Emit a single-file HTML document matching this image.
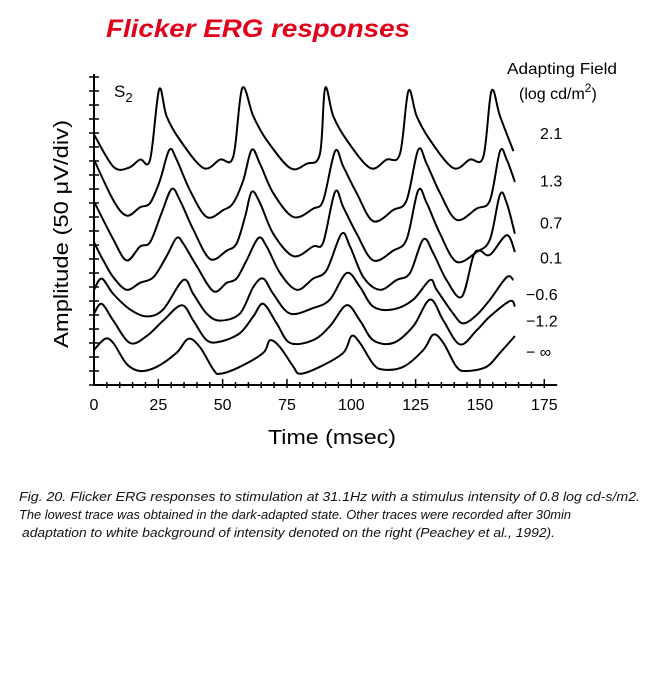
<!DOCTYPE html>
<html><head><meta charset="utf-8"><style>
html,body{margin:0;padding:0;background:#fff;}
svg{display:block;}
text{font-family:"Liberation Sans",sans-serif;}
</style></head><body>
<svg id="chart" width="656" height="688" viewBox="0 0 656 688" xmlns="http://www.w3.org/2000/svg">
<text x="106" y="37" font-size="25" font-weight="bold" font-style="italic" fill="#e0001a" textLength="304" lengthAdjust="spacingAndGlyphs">Flicker ERG responses</text>
<g id="axes"></g>
<g id="traces"></g>
<text x="114" y="97" font-size="17">S<tspan font-size="13" dy="5">2</tspan></text>
<text transform="translate(68,234) rotate(-90)" text-anchor="middle" font-size="20" textLength="228" lengthAdjust="spacingAndGlyphs">Amplitude (50 μV/div)</text>
<text x="332" y="444" text-anchor="middle" font-size="20" textLength="128" lengthAdjust="spacingAndGlyphs">Time (msec)</text>
<text x="507" y="74" font-size="16" textLength="110" lengthAdjust="spacingAndGlyphs">Adapting Field</text>
<text x="519" y="99" font-size="16">(log cd/m<tspan font-size="12" dy="-7">2</tspan><tspan dy="7">)</tspan></text>
<g id="legend"></g>
<g font-style="italic" font-size="12.5" fill="#111">
<text x="19" y="501" textLength="621" lengthAdjust="spacingAndGlyphs">Fig. 20. Flicker ERG responses to stimulation at 31.1Hz with a stimulus intensity of 0.8 log cd-s/m2.</text>
<text x="19" y="519" textLength="552" lengthAdjust="spacingAndGlyphs">The lowest trace was obtained in the dark-adapted state. Other traces were recorded after 30min</text>
<text x="22" y="537" textLength="533" lengthAdjust="spacingAndGlyphs">adaptation to white background of intensity denoted on the right (Peachey et al., 1992).</text>
</g>
</svg>
<script>
const xTicks=[0,25,50,75,100,125,150,175];
const legendLabels=["2.1","1.3","0.7","0.1","\u22120.6","\u22121.2","\u2212 \u221e"];
const legendLevels=[18,14.6,11.6,9.1,6.5,4.6,2.4];
const T1t=[0,7.5,13.3,17.9,21.8,25.3,28.2,33.4,42.5,49,54.1,57.6,61.9,67.1,76.2,82.6,87.8,89.8,93,98.2,107.3,113.7,118.9,122.2,125.4,130.6,139.6,146.1,151.3,154.5,157.8,163];
const T1v=[17.9,15.6,15.5,16.1,16.1,21.1,19.2,17.5,15.5,16.1,16.3,21.2,19.2,17.5,15.5,15.8,16.5,21.2,19.2,17.5,15.5,16.1,16.5,21,19.2,17.5,15.5,16.1,16.3,21,19.2,16.7];
const T2t=[0,7.5,12.7,17.9,21.8,25.6,29.3,32.1,37.3,43.8,50.3,54.1,58,61.3,64.5,69.7,77.5,85.2,89.1,93.7,96.9,102.1,108.5,116.3,121.5,126,129.3,134.5,140.9,148.7,153.9,157.8,160.4,163.6];
const T2v=[16.1,13.2,12.1,12.7,13,14.6,16.8,16.1,13.9,12,12.5,13,14.6,16.8,15.8,13.7,12,12.6,13.2,16.7,15.6,13.7,11.7,12.5,13.2,16.8,15.8,13.7,11.8,12.6,13.2,16.7,16.1,14.5];
const T3t=[0,7.5,12.7,17.9,21.8,26.3,30.2,33.4,38.6,45.1,51.6,55.4,58.7,61.3,64.5,69.7,77.5,85.2,89.1,93.7,96.9,102.1,108.5,116.3,121.5,126,129.3,134.5,140.9,148.7,153.9,157.8,160.4,163.6];
const T3v=[13.1,10.4,8.9,9.9,10.2,12.3,14,13.2,11.1,9,9.6,10.1,12,13.8,13,10.8,9.2,9.9,10.2,13.8,12.7,10.8,8.9,9.6,10.4,13.9,13,10.8,8.8,9.5,10.4,13.6,13,10.8];
const T4t=[0,3.6,7.5,12.7,17.9,23.1,28.2,32.1,34.7,39.9,46.4,51.6,55.4,59.3,63.9,67.1,72.3,78.8,85.2,90.4,96.2,99.5,104.7,111.1,117.6,122.8,128,131.9,137,142.9,147.4,150,153.9,160.4,163.6];
const T4v=[10.2,8.9,7.7,6.8,7.3,7.7,9.2,10.5,10.1,8.5,6.7,7.3,7.6,8.9,10.5,9.9,8,6.8,7.6,8.2,10.8,9.9,7.7,6.8,7.5,8,10.4,9.4,7.5,6.3,9.2,9.6,9.3,10.7,9.5];
const T5t=[0,3,7.5,14,20.5,26.9,34.7,38.6,43.8,49,56.7,61.9,65.8,69.7,76.2,85.2,91.7,98.2,103.4,108.5,116.3,124.1,130.6,133.2,139.6,143.5,148.7,153.9,160.4,163];
const T5v=[6.8,7.6,6.5,5.4,4.9,5.4,7.5,6.5,5.1,4.6,5.1,7,7.6,6.5,5.1,5.5,6.1,8,7,5.6,5.4,6.1,7.5,6.8,5.1,4.4,5,6.1,7.7,7.5];
const T6t=[0,3,7.5,14,20.5,26.9,34.1,38.6,43.8,49,56.7,61.9,65.8,71,76.2,85.2,91.7,98.2,103.4,108.5,116.3,124.1,130.6,135.8,142.2,148.7,153.9,161.7,163.6];
const T6v=[5.1,5.8,4.6,3,3.5,4.6,5.7,4.6,3.2,3.1,3.7,4.9,5.8,4.4,3,3.2,4.2,5.7,4.6,3.2,3,4.2,6.1,4.6,2.9,3.9,4.9,6,5.6];
const T7t=[0,4.3,7.5,12.7,17.9,24.4,32.1,36.7,41.2,46.4,49,56.7,65.8,68.4,72.3,77.5,80.1,87.8,96.9,100.1,103.4,108.5,112.4,120.2,128,131.9,135.8,140.9,144.8,152.6,157.8,163.6];
const T7v=[2.5,3.3,3,1.5,1,1.3,2.3,3.3,2.7,1.1,0.8,1.3,2.3,3.2,2.7,1.3,0.8,1.3,2.3,3.5,3,1.5,1.1,1.3,2.5,3.6,3,1.3,1,1.3,2.3,3.5];
const traceNames=["trace-2-1","trace-1-3","trace-0-7","trace-0-1","trace-neg-0-6","trace-neg-1-2","trace-dark-adapted"];
const traceT=[T1t,T2t,T3t,T4t,T5t,T6t,T7t];
const traceV=[T1v,T2v,T3v,T4v,T5v,T6v,T7v];

const NS="http://www.w3.org/2000/svg";
const X0=94, PXMS=2.573, Y0=385, PXDIV=14;
function xs(t){return X0+t*PXMS;}
function ys(v){return Y0-v*PXDIV;}
function mk(tag,attrs,parent){const e=document.createElementNS(NS,tag);for(const k in attrs)e.setAttribute(k,attrs[k]);parent.appendChild(e);return e;}

const axes=document.getElementById('axes');
let yl=mk('line',{x1:X0,y1:74,x2:X0,y2:Y0,stroke:'#000','stroke-width':2},axes);


let xl=mk('line',{x1:X0,y1:Y0,x2:xs(180),y2:Y0,stroke:'#000','stroke-width':2},axes);


for(let d=0;d<=22;d++){
  let tk=mk('line',{x1:X0-5,y1:ys(d),x2:X0+5,y2:ys(d),stroke:'#000','stroke-width':1.5},axes);
  
  
}
for(let t=5;t<=175;t+=5){
  const major=(t%25===0);
  let tk=mk('line',{x1:xs(t),y1:Y0-(major?6:3),x2:xs(t),y2:Y0+3,stroke:'#000','stroke-width':1.5},axes);
  
  
}
xTicks.forEach(t=>{
  let lb=mk('text',{x:xs(t),y:410,'text-anchor':'middle','font-size':16},axes);
  lb.textContent=String(t);
  
  
});

function pathFrom(T,V){
  const P=T.map((t,i)=>[xs(t),ys(V[i])]);
  let d='M'+P[0][0].toFixed(1)+','+P[0][1].toFixed(1);
  for(let i=0;i<P.length-1;i++){
    const p0=P[i-1]||P[i],p1=P[i],p2=P[i+1],p3=P[i+2]||P[i+1];
    const c1=[p1[0]+(p2[0]-p0[0])/6,p1[1]+(p2[1]-p0[1])/6];
    const c2=[p2[0]-(p3[0]-p1[0])/6,p2[1]-(p3[1]-p1[1])/6];
    d+='C'+c1[0].toFixed(1)+','+c1[1].toFixed(1)+' '+c2[0].toFixed(1)+','+c2[1].toFixed(1)+' '+p2[0].toFixed(1)+','+p2[1].toFixed(1);
  }
  return d;
}
const tg=document.getElementById('traces');
traceT.forEach((T,i)=>{
  let p=mk('path',{d:pathFrom(T,traceV[i]),fill:'none',stroke:'#000','stroke-width':2,'stroke-linejoin':'round'},tg);
  
  
});
const lg=document.getElementById('legend');
legendLabels.forEach((s,i)=>{
  const neg=s.charAt(0)==='\u2212';
  let t=mk('text',{x:neg?526:540,y:ys(legendLevels[i])+6,'font-size':16},lg);
  t.textContent=s;
  
  
});
</script>
</body></html>
